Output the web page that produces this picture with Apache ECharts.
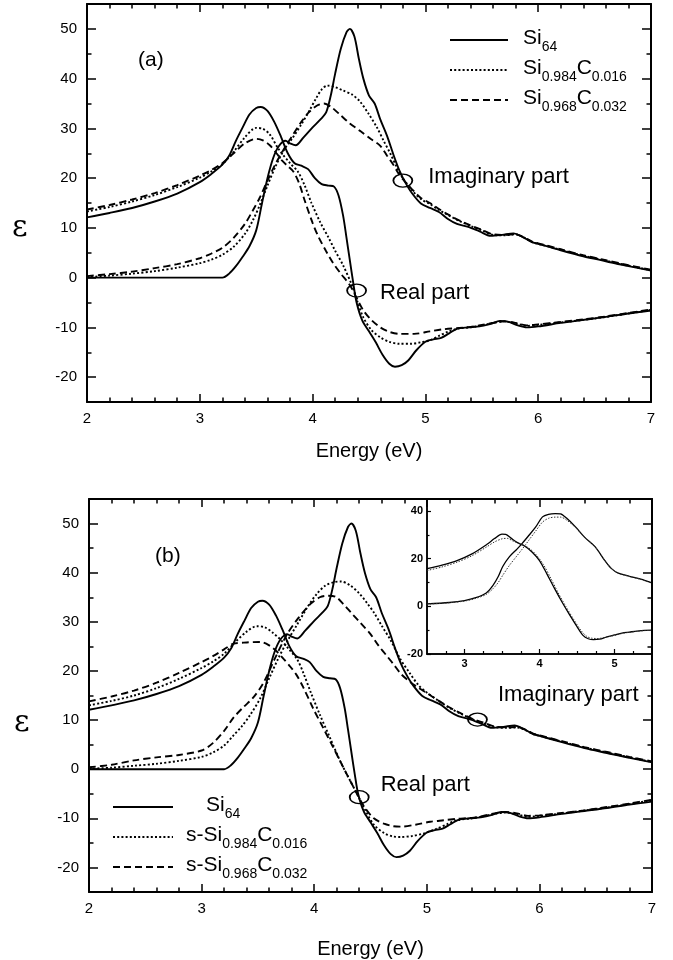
<!DOCTYPE html>
<html>
<head>
<meta charset="utf-8">
<title>Dielectric function, Si64 and SiC alloys</title>
<script src="https://cdn.jsdelivr.net/npm/echarts@6.0.0/dist/echarts.min.js"></script>
<style>
  html, body { margin: 0; padding: 0; background: #fff; }
  #chart { width: 673px; height: 960px; }
</style>
</head>
<body>
<div id="chart"></div>
<script>
// energy (eV), epsilon
var si64Re = [[2.0,12.1],[2.2,13.0],[2.4,14.0],[2.6,15.3],[2.8,16.9],[3.0,19.2],[3.1,20.8],[3.2,22.7],[3.26,24.5],[3.32,27.5],[3.38,30.2],[3.44,32.8],[3.5,34.1],[3.54,34.3],[3.6,33.5],[3.66,31.3],[3.72,28.3],[3.78,25.0],[3.84,23.0],[3.9,22.5],[3.96,21.8],[4.02,20.0],[4.08,18.8],[4.14,18.5],[4.19,18.3],[4.23,16.5],[4.27,12.5],[4.3,8.1],[4.33,3.5],[4.36,-1.0],[4.39,-5.0],[4.44,-8.6],[4.5,-10.8],[4.56,-13.0],[4.62,-15.5],[4.68,-17.3],[4.73,-17.9],[4.79,-17.6],[4.85,-16.6],[4.92,-14.6],[5.0,-12.9],[5.07,-12.4],[5.14,-12.1],[5.21,-11.2],[5.28,-10.3],[5.38,-10.0],[5.48,-9.8],[5.58,-9.3],[5.66,-8.7],[5.74,-8.9],[5.82,-9.6],[5.9,-10.0],[6.0,-9.8],[6.2,-9.1],[6.4,-8.5],[6.6,-7.9],[6.8,-7.2],[7.0,-6.6]];
var si64Im = [[2.0,0.0],[2.5,0.0],[3.0,0.0],[3.2,0.0],[3.26,0.8],[3.32,2.3],[3.38,4.2],[3.44,6.3],[3.5,9.5],[3.55,14.8],[3.6,20.0],[3.65,24.0],[3.7,26.4],[3.76,27.5],[3.8,27.0],[3.85,26.6],[3.92,28.2],[4.0,30.2],[4.07,31.8],[4.12,33.2],[4.16,36.5],[4.2,41.0],[4.25,46.0],[4.3,49.3],[4.33,50.0],[4.37,48.5],[4.41,44.0],[4.45,40.0],[4.5,36.6],[4.55,35.0],[4.6,31.8],[4.66,28.5],[4.72,24.5],[4.77,21.5],[4.82,19.2],[4.88,17.0],[4.96,14.9],[5.04,14.0],[5.12,13.2],[5.2,11.8],[5.28,10.8],[5.38,10.2],[5.48,9.3],[5.58,8.4],[5.68,8.6],[5.78,8.9],[5.86,8.2],[5.94,7.2],[6.0,6.8],[6.2,5.5],[6.4,4.3],[6.6,3.3],[6.8,2.3],[7.0,1.4]];

// panel (a): Si0.984C0.016 and Si0.968C0.032
var c016ReA = [[2.0,13.3],[2.2,14.2],[2.4,15.3],[2.6,16.6],[2.8,18.2],[3.0,20.1],[3.1,21.3],[3.2,22.8],[3.3,25.3],[3.4,28.2],[3.5,30.1],[3.56,29.9],[3.62,28.8],[3.7,25.8],[3.8,23.0],[3.87,21.3],[3.93,18.5],[3.99,15.0],[4.07,11.0],[4.14,8.1],[4.2,5.4],[4.27,2.5],[4.35,-1.6],[4.4,-5.0],[4.45,-8.0],[4.52,-10.5],[4.6,-12.0],[4.68,-12.9],[4.77,-13.3],[4.87,-13.3],[4.96,-13.0],[5.04,-12.6],[5.12,-11.7],[5.2,-10.9],[5.3,-10.2],[5.4,-10.0],[5.5,-9.6],[5.6,-9.1],[5.7,-8.8],[5.8,-9.2],[5.9,-9.7],[6.0,-9.5],[6.2,-9.0],[6.4,-8.5],[6.6,-7.9],[6.8,-7.2],[7.0,-6.5]];
var c016ImA = [[2.0,0.1],[2.2,0.4],[2.4,0.8],[2.6,1.3],[2.8,2.0],[3.0,2.9],[3.1,3.6],[3.2,4.6],[3.3,6.2],[3.4,8.8],[3.47,11.5],[3.53,14.5],[3.6,18.5],[3.67,22.3],[3.75,25.8],[3.82,28.0],[3.9,30.8],[3.97,33.5],[4.03,36.0],[4.08,37.8],[4.13,38.6],[4.2,38.3],[4.27,37.6],[4.35,36.8],[4.42,35.4],[4.5,32.8],[4.57,30.2],[4.63,27.5],[4.69,24.9],[4.75,22.0],[4.8,20.0],[4.88,17.6],[4.96,15.8],[5.04,14.8],[5.12,13.6],[5.2,12.6],[5.3,11.4],[5.4,10.4],[5.5,9.5],[5.6,8.6],[5.7,8.5],[5.8,8.7],[5.88,8.0],[5.95,7.1],[6.0,6.8],[6.2,5.6],[6.4,4.4],[6.6,3.4],[6.8,2.4],[7.0,1.5]];
var c032ReA = [[2.0,13.7],[2.2,14.6],[2.4,15.7],[2.6,17.0],[2.8,18.6],[3.0,20.5],[3.1,21.6],[3.2,23.0],[3.3,25.0],[3.4,27.0],[3.5,27.9],[3.56,27.6],[3.62,26.6],[3.68,25.0],[3.73,23.5],[3.78,22.4],[3.83,21.3],[3.88,19.0],[3.93,15.5],[4.0,11.0],[4.05,8.3],[4.12,5.3],[4.18,3.0],[4.25,0.8],[4.33,-1.5],[4.4,-4.5],[4.45,-6.6],[4.52,-8.5],[4.6,-10.0],[4.68,-10.9],[4.77,-11.3],[4.9,-11.3],[5.04,-10.8],[5.15,-10.4],[5.3,-10.1],[5.4,-9.9],[5.5,-9.5],[5.6,-9.1],[5.7,-8.8],[5.8,-9.1],[5.9,-9.6],[6.0,-9.4],[6.2,-8.9],[6.4,-8.4],[6.6,-7.8],[6.8,-7.1],[7.0,-6.4]];
var c032ImA = [[2.0,0.3],[2.2,0.7],[2.4,1.2],[2.6,1.9],[2.8,2.7],[3.0,3.9],[3.1,4.8],[3.2,6.0],[3.3,8.0],[3.4,10.8],[3.47,13.5],[3.53,16.0],[3.6,19.5],[3.67,22.8],[3.75,26.0],[3.82,28.5],[3.9,31.3],[3.97,33.3],[4.04,34.6],[4.1,35.0],[4.17,34.2],[4.25,32.6],[4.33,31.0],[4.42,29.5],[4.52,27.8],[4.6,26.5],[4.66,24.5],[4.71,22.9],[4.76,21.0],[4.8,19.8],[4.88,17.8],[4.96,16.0],[5.04,15.0],[5.12,13.8],[5.2,12.7],[5.3,11.5],[5.4,10.5],[5.5,9.6],[5.6,8.7],[5.7,8.6],[5.8,8.7],[5.88,8.0],[5.95,7.2],[6.0,6.9],[6.2,5.7],[6.4,4.5],[6.6,3.5],[6.8,2.5],[7.0,1.6]];

// panel (b): strained s-Si0.984C0.016 and s-Si0.968C0.032
var c016ReB = [[2.0,13.0],[2.2,13.9],[2.4,15.0],[2.6,16.5],[2.8,18.4],[3.0,20.6],[3.1,21.9],[3.2,23.5],[3.3,25.9],[3.4,28.0],[3.49,29.1],[3.56,28.9],[3.63,27.8],[3.7,26.4],[3.78,24.3],[3.85,22.3],[3.9,19.8],[3.97,15.6],[4.05,11.1],[4.14,6.4],[4.23,1.7],[4.3,-1.5],[4.38,-5.0],[4.45,-8.2],[4.53,-11.3],[4.62,-13.0],[4.7,-13.7],[4.77,-13.8],[4.87,-13.6],[4.97,-13.1],[5.08,-12.2],[5.18,-11.2],[5.27,-10.4],[5.4,-10.0],[5.5,-9.6],[5.6,-9.1],[5.7,-8.8],[5.8,-9.2],[5.9,-9.7],[6.0,-9.5],[6.2,-9.0],[6.4,-8.4],[6.6,-7.8],[6.8,-7.1],[7.0,-6.3]];
var c016ImB = [[2.0,0.1],[2.2,0.3],[2.4,0.7],[2.6,1.1],[2.8,1.7],[3.0,2.5],[3.1,3.4],[3.2,4.8],[3.28,6.8],[3.36,8.8],[3.43,11.0],[3.52,14.4],[3.6,18.5],[3.68,22.5],[3.76,26.0],[3.85,29.5],[3.94,33.0],[4.02,35.6],[4.1,37.4],[4.18,38.1],[4.24,38.2],[4.32,37.4],[4.4,35.8],[4.47,33.8],[4.53,31.9],[4.6,29.2],[4.68,26.2],[4.76,22.6],[4.85,19.5],[4.93,17.0],[5.0,15.6],[5.1,14.0],[5.2,12.5],[5.3,11.3],[5.4,10.2],[5.5,9.4],[5.6,8.6],[5.7,8.4],[5.8,8.5],[5.88,7.9],[5.95,7.1],[6.0,6.8],[6.2,5.6],[6.4,4.4],[6.6,3.4],[6.8,2.4],[7.0,1.5]];
var c032ReB = [[2.0,13.8],[2.2,14.8],[2.4,16.0],[2.6,17.6],[2.8,19.6],[3.0,21.8],[3.1,23.0],[3.2,24.4],[3.28,25.5],[3.4,25.8],[3.52,25.9],[3.6,25.2],[3.67,23.9],[3.73,22.4],[3.79,20.8],[3.84,19.3],[3.9,16.8],[3.99,12.4],[4.08,8.4],[4.17,4.4],[4.26,0.3],[4.35,-3.7],[4.44,-7.5],[4.53,-10.0],[4.62,-11.1],[4.7,-11.6],[4.77,-11.7],[4.9,-11.3],[5.03,-10.7],[5.15,-10.4],[5.27,-10.1],[5.4,-9.9],[5.5,-9.5],[5.6,-9.0],[5.7,-8.7],[5.8,-9.0],[5.9,-9.5],[6.0,-9.4],[6.2,-8.9],[6.4,-8.4],[6.6,-7.7],[6.8,-7.0],[7.0,-6.2]];
var c032ImB = [[2.0,0.4],[2.2,0.9],[2.4,1.8],[2.6,2.4],[2.8,2.9],[3.0,3.8],[3.1,5.3],[3.2,7.8],[3.28,10.4],[3.37,12.6],[3.46,14.6],[3.55,17.6],[3.65,22.5],[3.76,27.5],[3.86,30.8],[3.97,33.7],[4.05,35.0],[4.12,35.3],[4.19,35.1],[4.26,33.6],[4.33,31.8],[4.41,29.8],[4.5,27.5],[4.57,25.2],[4.64,23.2],[4.7,21.5],[4.77,19.4],[4.85,17.8],[4.93,16.5],[5.0,15.5],[5.1,14.0],[5.2,12.6],[5.3,11.4],[5.4,10.3],[5.5,9.5],[5.6,8.7],[5.7,8.5],[5.8,8.6],[5.88,8.0],[5.95,7.2],[6.0,6.9],[6.2,5.7],[6.4,4.5],[6.6,3.5],[6.8,2.5],[7.0,1.6]];

// inset of (b)
var insetSolidRe = [[2.5,15.8],[2.7,17.3],[2.9,19.2],[3.1,22.0],[3.3,26.0],[3.4,28.4],[3.5,30.3],[3.55,30.2],[3.62,28.6],[3.7,26.8],[3.8,25.3],[3.9,22.8],[4.0,19.2],[4.1,13.5],[4.2,7.5],[4.3,1.8],[4.4,-3.5],[4.5,-8.5],[4.58,-12.2],[4.65,-13.6],[4.72,-14.0],[4.8,-13.8],[4.9,-12.8],[5.0,-12.0],[5.1,-11.2],[5.2,-10.8],[5.3,-10.4],[5.4,-10.1],[5.5,-10.0]];
var insetDotRe = [[2.5,15.0],[2.7,16.5],[2.9,18.5],[3.1,21.2],[3.3,25.0],[3.4,27.0],[3.5,28.3],[3.57,28.5],[3.65,27.3],[3.75,26.2],[3.85,24.6],[3.95,21.8],[4.05,17.6],[4.15,11.8],[4.25,5.6],[4.35,0.0],[4.45,-5.2],[4.55,-10.0],[4.63,-12.6],[4.7,-13.4],[4.78,-13.5],[4.88,-13.0],[5.0,-12.2],[5.1,-11.4],[5.2,-10.9],[5.3,-10.5],[5.4,-10.2],[5.5,-10.1]];
var insetSolidIm = [[2.5,1.0],[2.8,1.6],[3.0,2.4],[3.15,3.6],[3.29,5.6],[3.38,8.8],[3.45,12.5],[3.51,16.7],[3.6,20.8],[3.7,24.0],[3.77,26.4],[3.86,29.8],[3.95,33.3],[4.04,37.5],[4.12,38.6],[4.21,38.9],[4.28,38.8],[4.36,37.0],[4.48,33.3],[4.6,29.0],[4.74,25.0],[4.88,18.8],[4.96,15.8],[5.05,13.9],[5.2,12.6],[5.35,11.4],[5.5,9.8]];
var insetDotIm = [[2.5,0.9],[2.8,1.5],[3.0,2.2],[3.15,3.3],[3.29,5.0],[3.38,7.4],[3.45,10.0],[3.51,13.0],[3.6,17.2],[3.7,21.2],[3.77,24.0],[3.86,27.8],[3.95,31.6],[4.04,35.3],[4.12,36.9],[4.21,37.4],[4.28,37.4],[4.36,36.2],[4.48,33.0],[4.6,29.0],[4.74,25.0],[4.88,18.8],[4.96,15.8],[5.05,13.9],[5.2,12.5],[5.35,11.3],[5.5,9.7]];

// ticks
var yMajor = [-20, -10, 0, 10, 20, 30, 40, 50];
var yMinor = [-15, -5, 5, 15, 25, 35, 45];
var insetXMajor = [3, 4, 5];
var insetXMinor = [2.75, 3.25, 3.5, 3.75, 4.25, 4.5, 4.75, 5.25];
var insetYMajor = [-20, 0, 20, 40];
var insetYMinor = [-10, 10, 30];

var FONT = '"Liberation Sans", Arial, sans-serif';
var SOLID = 'solid', DOT = [2, 2.2], DASH = [7, 4];

var chart = echarts.init(document.getElementById('chart'));

function xAxis(grid, pos, z, withLabel, nameGap) {
  return {
    type: 'value', gridIndex: grid, position: pos, min: 2, max: 7, interval: 1, z: z,
    axisLine: { onZero: false, lineStyle: { color: '#000', width: 2 } },
    axisTick: { inside: true, length: 8, lineStyle: { color: '#000', width: 1.5 } },
    minorTick: { show: true, splitNumber: 5, length: 4.5, lineStyle: { color: '#000', width: 1.5 } },
    splitLine: { show: false },
    axisLabel: { show: withLabel, color: '#000', fontSize: 15, fontFamily: FONT, margin: 9 },
    name: withLabel ? 'Energy (eV)' : '', nameLocation: 'middle', nameGap: nameGap,
    nameTextStyle: { color: '#000', fontSize: 20, fontFamily: FONT }
  };
}
function yAxis(grid, pos, z, ticks, len, withLabel, withLine) {
  return {
    type: 'value', gridIndex: grid, position: pos, min: -25, max: 55, z: z,
    axisLine: { show: withLine, onZero: false, lineStyle: { color: '#000', width: 2 } },
    axisTick: { inside: true, length: len, customValues: ticks, lineStyle: { color: '#000', width: 1.5 } },
    splitLine: { show: false },
    axisLabel: { show: withLabel, customValues: ticks, color: '#000', fontSize: 15, fontFamily: FONT, margin: 10 }
  };
}

function line(name, data, dash, xi, yi, width, color, z) {
  return {
    name: name, type: 'line', data: data, xAxisIndex: xi, yAxisIndex: yi,
    showSymbol: false, symbol: 'none', smooth: 0.3, z: z || 2, silent: true,
    itemStyle: { color: color || '#000' },
    lineStyle: { color: color || '#000', width: width || 1.9, type: dash }
  };
}

function ring(coord, text, dist, off) {
  return {
    symbol: 'circle', symbolSize: [19, 13], silent: true,
    itemStyle: { color: 'rgba(0,0,0,0)', borderColor: '#000', borderWidth: 1.5 },
    label: { show: true, position: 'right', distance: dist, offset: off, formatter: text,
      color: '#000', fontSize: 22, fontFamily: FONT },
    data: [{ coord: coord }]
  };
}

var legendNames = {
  'Si64': '{p|Si}{s|64}',
  'Si0.984C0.016': '{p|Si}{s|0.984}{m|C}{s|0.016}',
  'Si0.968C0.032': '{p|Si}{s|0.968}{m|C}{s|0.032}',
  'Si64 (b)': '{P|Si}{s|64}',
  's-Si0.984C0.016': '{q|s-Si}{s|0.984}{m|C}{s|0.016}',
  's-Si0.968C0.032': '{q|s-Si}{s|0.968}{m|C}{s|0.032}'
};
var richText = {
  m: { fontSize: 21, fontFamily: FONT, color: '#000', verticalAlign: 'top', lineHeight: 24 },
  p: { fontSize: 21, fontFamily: FONT, color: '#000', verticalAlign: 'top', lineHeight: 24, padding: [0, 0, 0, 10] },
  P: { fontSize: 21, fontFamily: FONT, color: '#000', verticalAlign: 'top', lineHeight: 24, padding: [0, 0, 0, 28] },
  q: { fontSize: 21, fontFamily: FONT, color: '#000', verticalAlign: 'top', lineHeight: 24, padding: [0, 0, 0, 8] },
  s: { fontSize: 14, fontFamily: FONT, color: '#000', verticalAlign: 'top', lineHeight: 16, padding: [12, 0, 0, 0] }
};
function legend(left, top, width, gap, names) {
  return {
    left: left, top: top, orient: 'vertical', itemWidth: width, itemHeight: 14, itemGap: gap,
    selectedMode: false, data: names, padding: 0,
    itemStyle: { opacity: 0, borderWidth: 0 },
    formatter: function (n) { return legendNames[n]; },
    textStyle: { rich: richText }
  };
}

var sA = line('Si64', si64Im, SOLID, 0, 0);
sA.markPoint = ring([4.8, 19.5], 'Imaginary part', 15, [0, -4]);
var rA = line('Si64', si64Re, SOLID, 0, 0);
rA.markPoint = ring([4.39, -2.6], 'Real part', 13, [0, 2]);
var sB = line('Si64 (b)', si64Im, SOLID, 2, 4);
sB.markPoint = ring([5.45, 10.1], 'Imaginary part', 10, [0, -25]);
var rB = line('Si64 (b)', si64Re, SOLID, 2, 4);
rB.markPoint = ring([4.40, -5.7], 'Real part', 11, [0, -12]);

var option = {
  backgroundColor: '#fff',
  animation: false,
  grid: [
    { left: 87, top: 4, width: 564, height: 398 },
    { left: 89, top: 499, width: 563, height: 398 },
    { left: 427, top: 499, width: 225, height: 155, show: true, backgroundColor: '#fff',
      borderColor: '#000', borderWidth: 1.5, z: 3 }
  ],
  xAxis: [
    xAxis(0, 'bottom', 0, true, 39),
    xAxis(0, 'top', 0, false, 0),
    xAxis(1, 'bottom', 6, true, 47),
    xAxis(1, 'top', 6, false, 0),
    {
      type: 'value', gridIndex: 2, position: 'bottom', min: 2.5, max: 5.5, z: 4,
      axisLine: { onZero: false, lineStyle: { color: '#000', width: 1.5 } },
      axisTick: { inside: true, length: 5, customValues: insetXMajor, lineStyle: { color: '#000', width: 1.2 } },
      splitLine: { show: false },
      axisLabel: { customValues: insetXMajor, color: '#000', fontSize: 11, fontWeight: 'bold', fontFamily: FONT, margin: 4 }
    },
    {
      type: 'value', gridIndex: 2, position: 'bottom', min: 2.5, max: 5.5, z: 4,
      axisLine: { show: false, onZero: false },
      axisTick: { inside: true, length: 3, customValues: insetXMinor, lineStyle: { color: '#000', width: 1.2 } },
      splitLine: { show: false }, axisLabel: { show: false }
    }
  ],
  yAxis: [
    yAxis(0, 'left', 0, yMajor, 9, true, true),
    yAxis(0, 'left', 0, yMinor, 4.5, false, false),
    yAxis(0, 'right', 0, yMajor, 9, false, true),
    yAxis(0, 'right', 0, yMinor, 4.5, false, false),
    yAxis(1, 'left', 6, yMajor, 9, true, true),
    yAxis(1, 'left', 6, yMinor, 4.5, false, false),
    yAxis(1, 'right', 6, yMajor, 9, false, true),
    yAxis(1, 'right', 6, yMinor, 4.5, false, false),
    {
      type: 'value', gridIndex: 2, position: 'left', min: -20, max: 45, z: 4,
      axisLine: { onZero: false, lineStyle: { color: '#000', width: 1.5 } },
      axisTick: { inside: true, length: 4, customValues: insetYMajor, lineStyle: { color: '#000', width: 1.2 } },
      splitLine: { show: false },
      axisLabel: { customValues: insetYMajor, color: '#000', fontSize: 11, fontWeight: 'bold', fontFamily: FONT, margin: 4 }
    },
    {
      type: 'value', gridIndex: 2, position: 'left', min: -20, max: 45, z: 4,
      axisLine: { show: false, onZero: false },
      axisTick: { inside: true, length: 2.5, customValues: insetYMinor, lineStyle: { color: '#000', width: 1.2 } },
      splitLine: { show: false }, axisLabel: { show: false }
    }
  ],
  legend: [
    legend(449, 28, 58, 4, ['Si64', 'Si0.984C0.016', 'Si0.968C0.032']),
    legend(112, 795, 60, 4, ['Si64 (b)', 's-Si0.984C0.016', 's-Si0.968C0.032'])
  ],
  graphic: [
    { type: 'text', left: 138, top: 50, style: { text: '(a)', fontSize: 21, fontFamily: FONT, fill: '#000' } },
    { type: 'text', left: 155, top: 546, style: { text: '(b)', fontSize: 21, fontFamily: FONT, fill: '#000' } },
    { type: 'text', left: 12, top: 213, style: { text: 'ε', fontSize: 30, fontFamily: '"DejaVu Serif", serif', fill: '#000' } },
    { type: 'text', left: 14, top: 708, style: { text: 'ε', fontSize: 30, fontFamily: '"DejaVu Serif", serif', fill: '#000' } }
  ],
  series: [
    sA, rA,
    line('Si0.984C0.016', c016ImA, DOT, 0, 0),
    line('Si0.984C0.016', c016ReA, DOT, 0, 0),
    line('Si0.968C0.032', c032ImA, DASH, 0, 0),
    line('Si0.968C0.032', c032ReA, DASH, 0, 0),
    sB, rB,
    line('s-Si0.984C0.016', c016ImB, DOT, 2, 4),
    line('s-Si0.984C0.016', c016ReB, DOT, 2, 4),
    line('s-Si0.968C0.032', c032ImB, DASH, 2, 4),
    line('s-Si0.968C0.032', c032ReB, DASH, 2, 4),
    line('inset solid', insetSolidIm, SOLID, 4, 8, 1.3, '#000', 5),
    line('inset solid', insetSolidRe, SOLID, 4, 8, 1.3, '#000', 5),
    line('inset dotted', insetDotIm, [1.5, 1.5], 4, 8, 1, '#333', 5),
    line('inset dotted', insetDotRe, [1.5, 1.5], 4, 8, 1, '#333', 5)
  ]
};
chart.setOption(option);
</script>
</body>
</html>
